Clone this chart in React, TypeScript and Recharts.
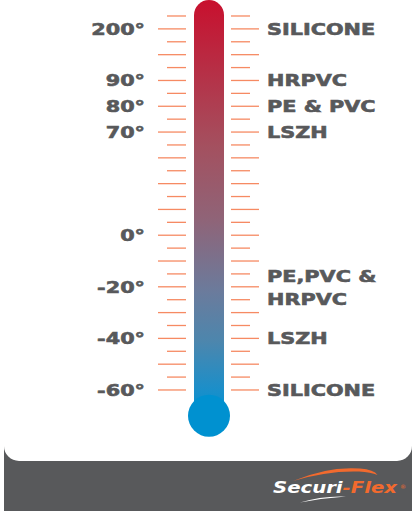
import React from "react";
import { ComposedChart, Bar, XAxis, YAxis, Customized } from "recharts";

// scale steps of the thermometer (one per tick line, top to bottom)
const scaleSteps = [0, 1, 2, 3, 4, 5, 6, 7, 8, 9, 10, 11, 12, 13, 14, 15, 16, 17, 18, 19, 20, 21, 22, 23, 24, 25, 26, 27, 28, 29];

// temperature labels on the left
const tempSteps = [1, 5, 7, 9, 17, 21, 25, 29];
const tempLabels = ["200°", "90°", "80°", "70°", "0°", "-20°", "-40°", "-60°"];

// material labels on the right
const materialSteps = [1, 5, 7, 9, 21, 25, 29];
const materialLabels = [["SILICONE"], ["HRPVC"], ["PE & PVC"], ["LSZH"], ["PE,PVC &", "HRPVC"], ["LSZH"], ["SILICONE"]];

// tube runs from its rounded top to the bulb centre
const tube = [{ name: "thermometer", span: [-1.24, 31] }];

const TEXT = "#58595b";
const TICK = "#f68a63";
const ORANGE = "#f26a2e";

const labelStyle = {
  fontFamily: "DejaVu Sans",
  fontWeight: 700,
  fontSize: 16,
  fill: TEXT,
  stroke: TEXT,
  strokeWidth: 0.6,
};

function LeftTick(props: any) {
  const { x, y, payload } = props;
  const step = payload.value;
  const len = step % 2 === 1 ? 28 : 19;
  const i = tempSteps.indexOf(step);
  return (
    <g>
      <line x1={x - len} x2={x} y1={y} y2={y} stroke={TICK} strokeWidth={1.3} />
      {i >= 0 && (
        <text transform={`translate(${x - 41},${y}) scale(1.3,1)`} textAnchor="end" dy="0.36em" style={labelStyle}>
          {tempLabels[i]}
        </text>
      )}
    </g>
  );
}

function RightTick(props: any) {
  const { x, y, payload } = props;
  const step = payload.value;
  const len = step % 2 === 1 ? 28 : 19;
  const i = materialSteps.indexOf(step);
  const lines = i >= 0 ? materialLabels[i] : [];
  return (
    <g>
      <line x1={x} x2={x + len} y1={y} y2={y} stroke={TICK} strokeWidth={1.3} />
      {lines.map((t, k) => {
        const off = lines.length > 1 ? (k === 0 ? -10.5 : 12) : 0;
        return (
          <text key={k} transform={`translate(${x + 36},${y + off}) scale(1.3,1)`} textAnchor="start" dy="0.36em" style={labelStyle}>
            {t}
          </text>
        );
      })}
    </g>
  );
}

function Thermometer(props: any) {
  const { x, y, width, height } = props;
  const top = Math.min(y, y + height);
  const bottom = Math.max(y, y + height);
  const r = width / 2;
  const left = x;
  const right = x + width;
  return (
    <g>
      <defs>
        <linearGradient id="tubeFill" x1="0" y1="0" x2="0" y2="1">
          <stop offset="0" stopColor="#c8102e" />
          <stop offset="0.35" stopColor="#a4505f" />
          <stop offset="0.53" stopColor="#8f6478" />
          <stop offset="0.7" stopColor="#6b7b9c" />
          <stop offset="0.82" stopColor="#4d86ad" />
          <stop offset="0.94" stopColor="#1a8fca" />
          <stop offset="1" stopColor="#0091d0" />
        </linearGradient>
      </defs>
      <path
        d={`M${left},${bottom} L${left},${top + r} A${r},${r} 0 0 1 ${right},${top + r} L${right},${bottom} Z`}
        fill="url(#tubeFill)"
      />
      <circle cx={x + r} cy={bottom} r={21} fill="#0091d0" />
    </g>
  );
}

function Logo() {
  return (
    <g>
      <path d="M293,481 Q328,466 360,468.5 Q374,469.5 377.5,475 Q371,472 359,471.5 Q327,470.5 293,481 Z" fill={ORANGE} />
      <text
        transform="translate(273,493) scale(1.23,1)"
        style={{ fontFamily: "DejaVu Sans", fontWeight: 700, fontStyle: "italic", fontSize: 16 }}
      >
        <tspan fill="#ffffff">Securi</tspan>
        <tspan fill={ORANGE}>-Flex</tspan>
      </text>
      <text x={400} y={489} style={{ fontFamily: "DejaVu Sans", fontSize: 6, fill: ORANGE }}>
        ®
      </text>
      <path d="M300,502.5 Q322,495.5 346,496.5 Q322,498.2 300,502.5 Z" fill="#ffffff" />
    </g>
  );
}

export default function App() {
  return (
    <div style={{ position: "absolute", left: 0, top: 0, width: 414, height: 517, background: "#ffffff" }}>
      <div style={{ position: "absolute", left: 4, top: 446, width: 408, height: 65, background: "#58595b" }} />
      <div
        style={{
          position: "absolute",
          left: 4,
          top: 0,
          width: 408,
          height: 461,
          background: "#ffffff",
          borderBottomLeftRadius: 15,
          borderBottomRightRadius: 15,
        }}
      />
      <div style={{ position: "absolute", left: 0, top: 0 }}>
        <ComposedChart width={414} height={517} data={tube} margin={{ top: 0, right: 0, bottom: 0, left: 0 }} barSize={30}>
          <XAxis dataKey="name" hide />
          <YAxis
            yAxisId="left"
            orientation="left"
            type="number"
            width={186}
            domain={[-1.24, 38.85]}
            reversed
            allowDataOverflow
            ticks={scaleSteps}
            interval={0}
            tickSize={0}
            tickMargin={0}
            axisLine={false}
            tickLine={false}
            tick={<LeftTick />}
          />
          <YAxis
            yAxisId="right"
            orientation="right"
            type="number"
            width={183}
            domain={[-1.24, 38.85]}
            reversed
            allowDataOverflow
            ticks={scaleSteps}
            interval={0}
            tickSize={0}
            tickMargin={0}
            axisLine={false}
            tickLine={false}
            tick={<RightTick />}
          />
          <Bar yAxisId="left" dataKey="span" shape={<Thermometer />} isAnimationActive={false} />
          <Customized component={Logo} />
        </ComposedChart>
      </div>
    </div>
  );
}
